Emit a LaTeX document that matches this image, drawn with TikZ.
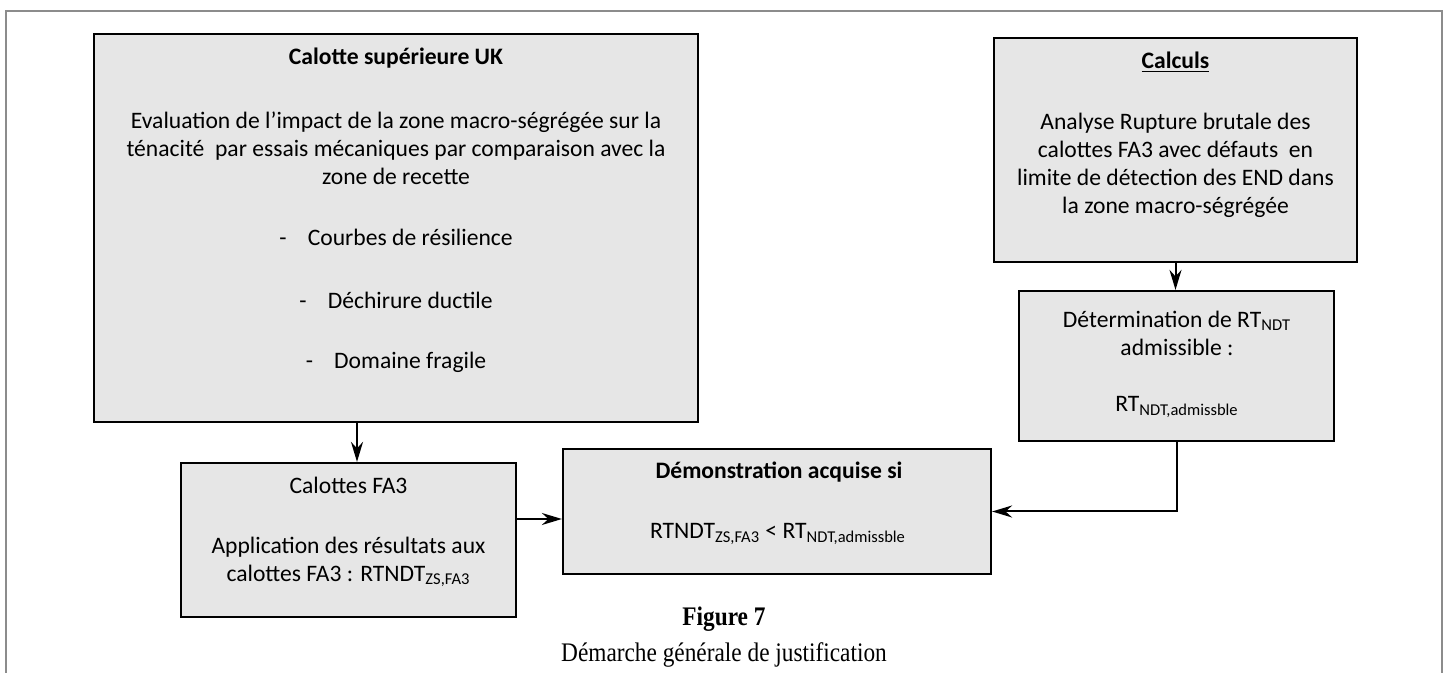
\documentclass[tikz,border=0pt]{standalone}
\usepackage{fontspec}
\setmainfont{Carlito}
\newfontfamily\capfont{Liberation Serif}
\usetikzlibrary{arrows.meta}
\definecolor{boxgray}{RGB}{230,230,230}
\definecolor{framegray}{RGB}{140,140,140}
\tikzset{
  box/.style={draw=black, fill=boxgray, line width=1.1pt, inner sep=0pt},
  txt/.style={font=\fontsize{11.8}{14}\selectfont, align=center, inner sep=0pt},
  link/.style={line width=1pt, -{Stealth[length=10pt,width=6pt]}},
  captxt/.style={font=\capfont\fontsize{13.4}{15}\selectfont, inner sep=0pt},
}

\begin{document}
\begin{tikzpicture}[x=0.5pt, y=-0.5pt]
		%%%%% START %%%%%
		\useasboundingbox (0,0) rectangle (1448,673);
		\draw[framegray, line width=0.7pt] (6,673) -- (6,11) -- (1442,11) -- (1442,673);
		
		\node[box, minimum width=302pt, minimum height=194pt] (uk) at (396,228) {};
		\node[box, minimum width=181.5pt, minimum height=112pt] (calc) at (1175.5,150) {};
		\node[box, minimum width=157.5pt, minimum height=75pt] (det) at (1176.5,366) {};
		\node[box, minimum width=167.5pt, minimum height=77pt] (fa3) at (348.5,540) {};
		\node[box, minimum width=214pt, minimum height=62.5pt] (demo) at (777,511.5) {};
		
		\node[txt, font=\fontsize{11.8}{14}\selectfont\bfseries] (uktitle) at (396,58) {Calotte supérieure UK};
		\node[txt] (ukbody) at (396,148) {Evaluation de l’impact de la zone macro-ségrégée sur la\\ténacité\ \ par essais mécaniques par comparaison avec la\\zone de recette};
		\node[txt] (ukitema) at (396,237) {-\hspace{0.9em}Courbes de résilience};
		\node[txt] (ukitemb) at (396,300) {-\hspace{0.9em}Déchirure ductile};
		\node[txt] (ukitemc) at (396,362) {-\hspace{0.9em}Domaine fragile};
		
		\node[txt, font=\fontsize{11.8}{14}\selectfont\bfseries] (calctitle) at (1175.5,62) {\underline{Calculs}};
		\node[txt] (calcbody) at (1175.5,165) {Analyse Rupture brutale des\\calottes FA3 avec défauts\ \ en\\limite de détection des END dans\\la zone macro-ségrégée};
		
		\node[txt] (dethead) at (1177,333) {Détermination de RT\textsubscript{NDT}\\admissible :};
		\node[txt] (detval) at (1177,407) {RT\textsubscript{NDT,admissble}};
		
		\node[txt] (fa3title) at (348.5,485) {Calottes FA3};
		\node[txt] (fa3body) at (348.5,562) {Application des résultats aux\\calottes FA3 : RTNDT\textsubscript{ZS,FA3}};
		
		\node[txt, font=\fontsize{11.8}{14}\selectfont\bfseries] (demotitle) at (779,472) {Démonstration acquise si};
		\node[txt] (demobody) at (778,534) {RTNDT\textsubscript{ZS,FA3} < RT\textsubscript{NDT,admissble}};
		
		\draw[link] ([xshift=4.25pt]fa3.north |- uk.south) -- ([xshift=4.25pt]fa3.north);
		\draw[link] (calc.south) -- (calc.south |- det.north);
		\draw[link] ([yshift=-3.75pt]demo.west -| fa3.east) -- ([yshift=-3.75pt]demo.west);
		\draw[link] (det.south) |- (demo.east);
		
		\node[captxt] (figno) at (724,619) {\scalebox{0.87}[1]{\bfseries Figure 7}};
		\node[captxt] (figcap) at (724,655) {\scalebox{0.87}[1]{Démarche générale de justification}};
		%%%%% END %%%%%
	\end{tikzpicture}
\end{document}
